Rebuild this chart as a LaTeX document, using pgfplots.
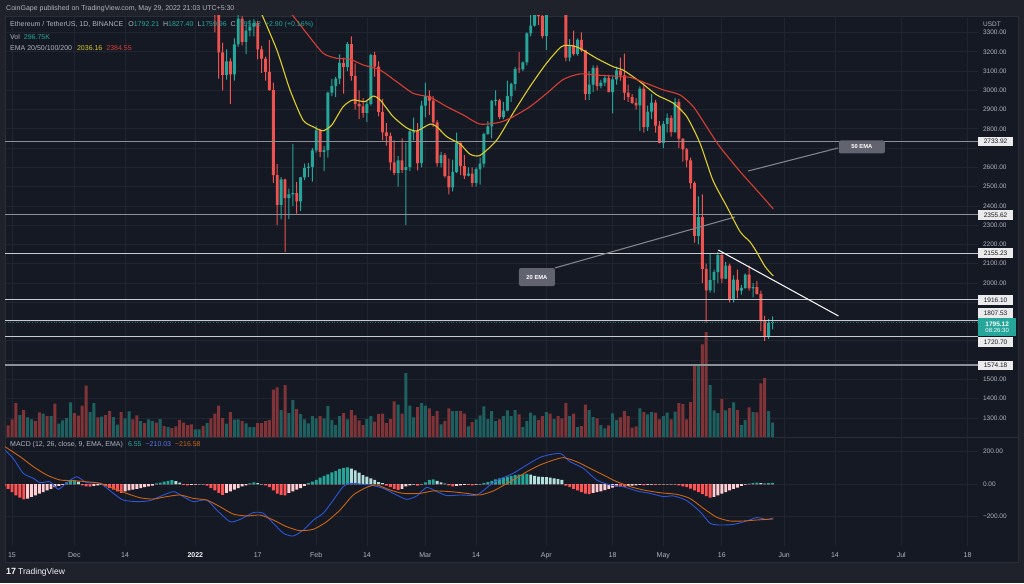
\documentclass[border=0pt]{standalone}
\usepackage{pgfplots}
\pgfplotsset{compat=1.18}
\usepackage{pgfplotstable}
\usepackage{fontspec}
\setmainfont{Liberation Sans}
\definecolor{outerbg}{HTML}{1F222B}
\definecolor{chartbg}{HTML}{151924}
\definecolor{gridc}{HTML}{21252F}
\definecolor{sepc}{HTML}{2A2E39}
\definecolor{txt}{HTML}{B2B5BE}
\definecolor{upc}{HTML}{26A69A}
\definecolor{dnc}{HTML}{EF5350}
\definecolor{volup}{RGB}{30,96,95}
\definecolor{voldn}{RGB}{128,52,56}
\definecolor{emaA}{RGB}{222,204,45}
\definecolor{emaB}{RGB}{214,62,52}
\definecolor{macdc}{RGB}{45,85,215}
\definecolor{sigc}{RGB}{205,100,20}
\definecolor{hup}{HTML}{26A69A}
\definecolor{hupl}{HTML}{B2DFDB}
\definecolor{hdn}{HTML}{FF5252}
\definecolor{hdnl}{HTML}{FFCDD2}
\definecolor{lvl}{HTML}{C9CBD1}
\definecolor{lvlb}{HTML}{8E9099}
\definecolor{callc}{HTML}{61646E}
\definecolor{boxtxt}{HTML}{131722}
\newcommand{\fs}[1]{\fontsize{#1}{#1}\selectfont}

\pgfplotstableread{
d o h l c
52 3537 3540 3300 3410
53 3410 3415 3060 3197
54 3197 3247 3000 3080
55 3080 3212 3056 3150
56 3150 3166 2929 3083
57 3083 3270 3050 3238
58 3238 3413 3225 3372
59 3372 3386 3233 3251
60 3251 3340 3188 3310
61 3310 3365 3280 3330
62 3330 3370 3280 3350
63 3350 3360 3160 3212
64 3212 3230 3090 3164
65 3164 3175 3050 3096
66 3096 3262 2998 3001
67 3001 3040 2520 2560
68 2560 2617 2300 2405
69 2405 2549 2330 2538
70 2538 2542 2160 2441
71 2441 2490 2332 2460
72 2460 2722 2400 2466
73 2466 2525 2360 2423
74 2423 2550 2374 2548
75 2548 2620 2534 2598
76 2598 2623 2550 2603
77 2603 2700 2526 2688
78 2688 2815 2677 2792
79 2792 2800 2653 2680
80 2680 2710 2580 2690
81 2690 2993 2650 2988
82 2988 3059 2970 3022
83 3022 3070 2965 3060
84 3060 3186 3032 3142
85 3142 3170 2983 3122
86 3122 3250 3100 3240
87 3240 3280 3050 3075
88 3075 3140 2900 2928
89 2928 3000 2850 2917
90 2917 2960 2858 2883
91 2883 2950 2835 2929
92 2929 3190 2920 3183
93 3183 3200 3071 3123
94 3123 3150 2865 2888
95 2888 2955 2740 2782
96 2782 2830 2713 2763
97 2763 2780 2584 2626
98 2626 2740 2560 2571
99 2571 2660 2500 2636
100 2636 2750 2571 2587
101 2587 2727 2300 2601
102 2601 2800 2580 2787
103 2780 2858 2740 2790
104 2790 2830 2585 2622
105 2622 2945 2600 2920
106 2920 3040 2860 2971
107 2971 3000 2873 2947
108 2947 2970 2810 2834
109 2834 2845 2604 2622
110 2622 2680 2600 2663
111 2663 2674 2547 2555
112 2555 2645 2460 2496
113 2496 2640 2475 2576
114 2576 2780 2570 2727
115 2727 2730 2560 2607
116 2607 2665 2540 2557
117 2557 2600 2553 2567
118 2567 2600 2500 2520
119 2520 2600 2500 2591
120 2591 2650 2510 2619
121 2619 2780 2600 2772
122 2772 2840 2770 2813
123 2813 2950 2750 2945
124 2945 3000 2920 2948
125 2948 2955 2850 2861
126 2861 2940 2850 2895
127 2895 3050 2890 2970
128 2970 3040 2940 3033
129 3033 3120 3000 3110
130 3110 3200 3090 3108
131 3108 3150 3100 3145
132 3145 3300 3130 3296
133 3296 3480 3280 3336
134 3336 3440 3330 3400
135 3400 3440 3340 3385
136 3385 3450 3270 3282
137 3282 3470 3210 3453
138 3453 3530 3440 3444
139 3444 3580 3420 3523
140 3523 3540 3400 3520
141 3520 3550 3400 3408
142 3408 3410 3150 3170
143 3170 3265 3150 3233
144 3233 3310 3180 3189
145 3189 3270 3180 3262
146 3262 3300 3200 3207
147 3207 3210 2950 2982
148 2982 3100 2950 3030
149 3030 3130 2990 3117
150 3117 3130 3000 3022
151 3022 3056 3010 3040
152 3040 3080 3022 3064
153 3064 3080 2990 2991
154 2991 3070 2880 3057
155 3057 3123 3030 3104
156 3104 3170 3050 3078
157 3078 3190 2950 2988
158 2988 3030 2940 2965
159 2965 2980 2930 2935
160 2935 2960 2900 2922
161 2922 3020 2790 3009
162 3009 3040 2780 2809
163 2809 2920 2790 2889
164 2889 2980 2850 2936
165 2936 2950 2780 2817
166 2817 2840 2725 2727
167 2727 2840 2700 2826
168 2826 2880 2780 2857
169 2857 2870 2760 2783
170 2783 2960 2780 2940
171 2940 2955 2700 2749
172 2749 2750 2630 2694
173 2694 2700 2600 2636
174 2636 2650 2490 2518
175 2518 2527 2210 2245
176 2245 2450 2200 2342
177 2342 2460 2000 2073
178 2073 2100 1795 1962
179 1962 2150 1950 2015
180 2015 2070 1950 2057
181 2057 2160 2000 2145
182 2145 2150 2000 2023
183 2023 2110 2020 2090
184 2090 2100 1900 1913
185 1913 2040 1900 2018
186 2018 2070 1920 1960
187 1960 1990 1940 1975
188 1975 2050 1970 2043
189 2043 2090 1960 1972
190 1972 2000 1925 1978
191 1978 2010 1940 1944
192 1944 1960 1750 1802
193 1802 1830 1700 1724
194 1724 1813 1710 1792
195 1792.21 1827.40 1759.96 1795.12
}\candles

\pgfplotstableread{
d v u
-1 11.7 0
0 17.7 0
1 34 0
2 22 1
3 27 0
4 19.7 1
5 17.7 1
6 16 0
7 24.7 0
8 23.3 1
9 21 0
10 21 1
11 33.3 0
12 13.3 1
13 16.7 1
14 19 1
15 34.7 1
16 24 0
17 21.3 0
18 31.3 0
19 51.3 0
20 25 1
21 34 1
22 19.7 0
23 20.3 1
24 22 0
25 26 0
26 20 1
27 12.3 1
28 25 0
29 18.7 1
30 25.7 1
31 17.7 0
32 21.7 0
33 16 1
34 14 0
35 17.7 1
36 16 1
37 14.3 0
38 18 1
39 11 0
40 10 1
41 9 0
42 10.7 0
43 17 0
44 14.3 0
45 12 0
46 12.7 0
47 7.7 1
48 7.7 1
49 11 0
50 14 1
51 18.7 0
52 23.3 0
53 31.3 0
54 19 0
55 13.3 1
56 25 0
57 17.3 1
58 17.7 1
59 16 0
60 13.7 1
61 10 1
62 10 1
63 14 0
64 14 0
65 16 0
66 17 0
67 47.3 0
68 49.7 0
69 27 1
70 52 0
71 24 1
72 37 1
73 28 0
74 23 1
75 17.7 1
76 13.7 1
77 21 1
78 18.7 1
79 21 0
80 18.7 1
81 31 1
82 17 1
83 12 1
84 21 1
85 24 0
86 17.7 1
87 27 0
88 21.7 0
89 16.7 0
90 12 0
91 18 1
92 21 1
93 15.3 0
94 23 0
95 23.3 0
96 14 0
97 18 0
98 35.7 0
99 32.3 1
100 23.3 0
101 64 1
102 31.3 1
103 19.7 1
104 30 0
105 34 1
106 31.3 1
107 28.7 0
108 21 0
109 26 0
110 12.7 1
111 16 0
112 28.7 0
113 26 1
114 26 1
115 26 0
116 23.3 0
117 10.7 1
118 15 0
119 17.7 1
120 21.7 1
121 30.7 1
122 18 1
123 26 1
124 16 1
125 17.7 0
126 21 1
127 26.7 1
128 21 1
129 27 1
130 22.7 0
131 10 1
132 16 1
133 24.3 1
134 21.7 1
135 17 0
136 21 0
137 25 1
138 23.3 0
139 18 1
140 21 0
141 18.7 0
142 34 0
143 21 1
144 23.3 0
145 10 1
146 11 0
147 32.3 0
148 27 1
149 20 1
150 18.7 0
151 12 1
152 8.7 1
153 11.7 0
154 23.7 1
155 17 1
156 19.7 0
157 26 0
158 21 0
159 9.3 0
160 10.7 0
161 28.7 1
162 25 0
163 22.7 1
164 25 1
165 24.3 0
166 17.7 0
167 21 1
168 24.3 1
169 17.7 0
170 25.3 1
171 34 0
172 33 0
173 17.7 0
174 35 0
175 72 0
176 71 1
177 92.7 0
178 105 0
179 52 1
180 26.7 1
181 24 1
182 38 0
183 26.7 1
184 29 0
185 34.7 1
186 27 0
187 12 1
188 17 1
189 29.7 0
190 25 1
191 24.7 0
192 53.7 0
193 59 0
194 26 1
195 14.3 1
}\vol

\pgfplotstableread{
d h k
-2 -15 3
-1 -30 3
0 -50 3
1 -70 3
2 -85 3
3 -95 3
4 -90 4
5 -80 4
6 -70 4
7 -60 4
8 -50 4
9 -40 4
10 -30 4
11 -20 4
12 -12 4
13 -5 4
14 10 1
15 20 1
16 22 1
17 15 2
18 -8 3
19 -14 3
20 -16 3
21 -12 4
22 -8 4
23 -5 4
24 -15 3
25 -25 3
26 -35 3
27 -45 3
28 -55 3
29 -45 4
30 -40 4
31 -35 4
32 -30 4
33 -25 4
34 -20 4
35 -15 4
36 -10 4
37 4 1
38 8 1
39 14 1
40 20 1
41 24 1
42 18 2
43 8 2
44 -5 3
45 -8 3
46 -6 4
47 -4 4
48 -3 4
49 -2 4
50 -10 3
51 -25 3
52 -40 3
53 -55 3
54 -68 3
55 -55 4
56 -45 4
57 -35 4
58 -25 4
59 -15 4
60 -8 4
61 4 1
62 10 1
63 5 2
64 -2 4
65 -8 3
66 -20 3
67 -40 3
68 -60 3
69 -68 3
70 -70 3
71 -55 4
72 -45 4
73 -35 4
74 -25 4
75 -12 4
76 5 1
77 15 1
78 25 1
79 40 1
80 50 1
81 60 1
82 72 1
83 82 1
84 92 1
85 100 1
86 103 1
87 95 2
88 85 2
89 70 2
90 55 2
91 45 2
92 35 2
93 25 2
94 12 2
95 5 2
96 -10 3
97 -20 3
98 -30 3
99 -37 3
100 -30 4
101 -15 4
102 -8 4
103 -4 4
104 -10 3
105 -3 4
106 10 1
107 25 1
108 28 1
109 20 2
110 10 2
111 3 2
112 -8 3
113 -14 3
114 -12 4
115 -8 4
116 -6 4
117 -5 3
118 -8 3
119 -4 4
120 -2 4
121 6 1
122 12 1
123 20 1
124 28 1
125 35 1
126 40 1
127 45 1
128 50 1
129 55 1
130 58 1
131 60 1
132 62 1
133 58 2
134 50 2
135 46 2
136 44 2
137 42 2
138 40 2
139 35 2
140 30 2
141 25 2
142 -10 3
143 -20 3
144 -30 3
145 -40 3
146 -50 3
147 -60 3
148 -62 3
149 -55 4
150 -50 4
151 -45 4
152 -38 4
153 -30 4
154 -22 4
155 -15 4
156 -18 3
157 -20 3
158 -12 4
159 -10 4
160 -8 4
161 -6 4
162 -8 3
163 -5 4
164 -4 4
165 -5 3
166 -3 4
167 -4 3
168 -3 4
169 -2 4
170 -4 3
171 -8 3
172 -15 3
173 -20 3
174 -28 3
175 -40 3
176 -50 3
177 -62 3
178 -75 3
179 -85 3
180 -80 4
181 -70 4
182 -60 4
183 -50 4
184 -40 4
185 -30 4
186 -22 4
187 -12 4
188 -4 4
189 3 1
190 6 1
191 9 1
192 6 2
193 3 2
194 5 1
195 6.55 1
}\hist

\pgfplotstableread{
d p
63.5 3420
67.9 3210
71.3 3001
74.6 2846
77.2 2811
79.7 2790
82 2820
84.9 2915
87.4 2950
90.5 2941
92.6 2970
94.4 2950
97.7 2864
101.2 2805
103.8 2789
107.2 2825
108.9 2811
111.5 2759
114.9 2721
117.4 2669
120 2662
124.3 2742
128.5 2882
132.8 3019
137.1 3142
140.9 3227
143.5 3232
145.6 3218
149.9 3166
154.1 3123
156.7 3105
161 3045
165.3 2976
169.5 2934
173 2864
176.4 2726
179.7 2534
183.3 2396
186.7 2266
189.2 2214
190.9 2162
193.1 2085
195.2 2036.16
}\emaAt

\pgfplotstableread{
d p
68 3470
72.1 3385
75.6 3295
79.8 3192
83.3 3166
86.7 3161
90.1 3131
94.4 3105
98.6 3045
102.9 2984
107.2 2964
111.5 2915
115.7 2872
120 2825
125.1 2834
128.5 2863
132.8 2915
137.1 2984
141.4 3057
145.6 3085
149.9 3079
154.2 3074
158.5 3067
162.7 3036
167 3002
171.3 2976
174.7 2915
178.1 2811
181.5 2707
186.7 2578
190.9 2483
195.2 2384.55
}\emaBt

\pgfplotstableread{
d m
-1.8 210
0.3 159
2.9 66
5.5 35
7.2 8
9.7 14
11.9 -33
14 8
16.6 45
19.2 8
22.6 4
26 -58
28.5 -99
32 -109
35.4 -103
37.9 -78
41.4 -47
43.9 -78
46.5 -109
49.9 -99
52.5 -161
55.9 -233
58.5 -219
61.9 -177
64.4 -181
67 -243
69.6 -305
72.1 -322
74.7 -285
77.3 -223
79.8 -181
82.4 -99
84.9 -16
86.7 4
89.2 0
91.8 -6
95.2 -27
98.6 -68
101.2 -95
103.8 -74
106.3 -21
108.9 -47
111.5 -72
114.9 -68
119.2 -68
122.6 -6
125.1 30
128.5 66
132 118
135.4 165
138.8 186
140.9 186
143.1 138
146.5 97
149.9 25
153.3 -6
156.7 -16
160.2 -43
163.6 -58
167 -78
169.6 -74
173 -103
176.4 -171
179 -243
181.5 -254
185 -250
188.4 -229
190.9 -208
193.5 -219
195.2 -210.03
}\macdt

\pgfplotstableread{
d s
-1.8 231
2.1 169
5.5 107
8.9 56
12.3 25
15.7 21
19.2 14
22.6 4
26 -27
29.4 -58
32.8 -85
36.2 -93
39.7 -78
43.1 -68
46.5 -89
49.9 -99
53.3 -140
56.7 -186
60.2 -198
63.6 -192
67 -223
70.4 -264
73.8 -289
77.3 -280
80.7 -233
84.1 -161
87.5 -68
90.9 -21
93.5 -6
96.9 -37
100.3 -58
104.6 -58
108 -43
112.3 -47
116.6 -58
120 -68
123.4 -43
125.1 -21
128.5 25
132 76
135.4 118
138.8 148
141.4 163
144.8 138
148.2 97
151.6 56
155.1 14
158.5 -16
161.9 -37
166.2 -54
170.4 -64
173.8 -89
177.3 -151
180.7 -206
184.1 -229
187.5 -229
190.9 -223
195.2 -216.58
}\sigt

\pgfplotsset{
  chartframe/.style={scale only axis, width=973pt, xmin=-1.795, xmax=247.69,
    anchor=north west},
}

\begin{document}
\begin{tikzpicture}
\useasboundingbox (0,0) rectangle (1024pt,-583pt);
\fill[outerbg] (0,0) rectangle (1024pt,-583pt);
\fill[chartbg] (5pt,-16pt) rectangle (1018pt,-562pt);
\draw[sepc, line width=0.8pt] (5pt,-16pt) rectangle (1018pt,-562pt);

% price grid and scale
\begin{axis}[chartframe, at={(5pt,-16pt)}, height=421pt,
  ymin=1200.8, ymax=3385.6,
  axis line style={draw=none}, major tick length=0pt,
  xtick={0,16,29,47,63,78,91,106,119,137,154,167,182,198,211,228,245},
  xticklabels={},
  ytick={1300,1400,...,3300},
  yticklabels={1300.00,1400.00,1500.00,{},{},{},{},2000.00,2100.00,2200.00,2300.00,2400.00,2500.00,2600.00,{},2800.00,2900.00,3000.00,3100.00,3200.00,3300.00},
  yticklabel pos=right,
  yticklabel style={anchor=west, xshift=1.5pt, font=\fs{6.5}, text=txt},
  xmajorgrids, ymajorgrids, grid style={gridc, line width=0.7pt},
]
\addplot[draw=none, forget plot] coordinates {(0,2000)};
\end{axis}

% volume
\begin{axis}[chartframe, at={(5pt,-16pt)}, height=421pt, ymin=0, ymax=421, hide axis]
\addplot[ybar, bar width=3pt, bar shift=0pt, fill=volup, draw=none]
  table[x=d, y expr={\thisrow{u}==1 ? \thisrow{v} : 0}] {\vol};
\addplot[ybar, bar width=3pt, bar shift=0pt, fill=voldn, draw=none]
  table[x=d, y expr={\thisrow{u}==0 ? \thisrow{v} : 0}] {\vol};
\end{axis}

% candle wicks (stacked: invisible base at low, then high-low)
\begin{axis}[chartframe, at={(5pt,-16pt)}, height=421pt,
  ymin=1200.8, ymax=3385.6, hide axis, ybar stacked, bar width=1pt]
\addplot[fill=none, draw=none] table[x=d, y=l] {\candles};
\addplot[fill=upc, draw=none] table[x=d,
  y expr={\thisrow{c}>=\thisrow{o} ? \thisrow{h}-\thisrow{l} : 0}] {\candles};
\addplot[fill=dnc, draw=none] table[x=d,
  y expr={\thisrow{c}<\thisrow{o} ? \thisrow{h}-\thisrow{l} : 0}] {\candles};
\end{axis}

% candle bodies (stacked: invisible base at min(open,close), then body)
\begin{axis}[chartframe, at={(5pt,-16pt)}, height=421pt,
  ymin=1200.8, ymax=3385.6, hide axis, ybar stacked, bar width=2.9pt]
\addplot[fill=none, draw=none] table[x=d, y expr={min(\thisrow{o},\thisrow{c})}] {\candles};
\addplot[fill=upc, draw=none] table[x=d,
  y expr={\thisrow{c}>=\thisrow{o} ? max(\thisrow{c}-\thisrow{o},5) : 0}] {\candles};
\addplot[fill=dnc, draw=none] table[x=d,
  y expr={\thisrow{c}<\thisrow{o} ? max(\thisrow{o}-\thisrow{c},5) : 0}] {\candles};
\end{axis}

% EMAs, levels, annotations
\begin{axis}[chartframe, at={(5pt,-16pt)}, height=421pt,
  ymin=1200.8, ymax=3385.6, hide axis, clip mode=individual]
\addplot[lvlb, line width=1.8pt] coordinates {(-1.795,2733.92) (247.69,2733.92)};
\addplot[lvlb, line width=1.8pt] coordinates {(-1.795,2355.62) (247.69,2355.62)};
\addplot[lvl, line width=1pt] coordinates {(-1.795,2155.23) (247.69,2155.23)};
\addplot[lvl, line width=1pt] coordinates {(-1.795,1916.10) (247.69,1916.10)};
\addplot[lvl, line width=1pt] coordinates {(-1.795,1807.53) (247.69,1807.53)};
\addplot[lvl, line width=1pt] coordinates {(-1.795,1720.70) (247.69,1720.70)};
\addplot[lvlb, line width=1.8pt] coordinates {(-1.795,1574.18) (247.69,1574.18)};
\addplot[upc!70!black, dotted, line width=0.7pt] coordinates {(-1.795,1795.12) (247.69,1795.12)};
\addplot[callc!80!white, line width=1.1pt] coordinates {(188.7,2581) (211.8,2700.6)};
\addplot[callc!80!white, line width=1.1pt] coordinates {(139.2,2078) (185.4,2342.5)};
\addplot[emaA, line width=1.1pt, smooth, tension=0.4] table[x=d, y=p] {\emaAt};
\addplot[emaB, line width=1.1pt, smooth, tension=0.4] table[x=d, y=p] {\emaBt};
\addplot[white!88!gray, line width=1.1pt] coordinates {(181.1,2171) (211.9,1829)};
\node[fill=callc, rounded corners=2pt, minimum width=46pt, minimum height=13pt, inner sep=0pt,
  text=white, font=\fs{5.8}\bfseries] at (axis cs:217.9,2705.8) {50 EMA};
\node[fill=callc, rounded corners=2pt, minimum width=36pt, minimum height=18pt, inner sep=0pt,
  text=white, font=\fs{5.8}\bfseries] at (axis cs:134.6,2031) {20 EMA};
\tikzset{tag/.style={fill=white!92!black, text=boxtxt, minimum width=35pt, minimum height=9.6pt,
  inner sep=0pt, font=\fs{6.5}}}
\node[tag] at (axis cs:252.2,2733.3) {2733.92};
\node[tag] at (axis cs:252.2,2352.9) {2355.62};
\node[tag] at (axis cs:252.2,2155.7) {2155.23};
\node[tag] at (axis cs:252.2,1911.8) {1916.10};
\node[tag] at (axis cs:252.2,1844.3) {1807.53};
\node[tag] at (axis cs:252.2,1693.8) {1720.70};
\node[tag] at (axis cs:252.2,1571.9) {1574.18};
\node[fill=upc, text=white, minimum width=38pt, minimum height=17.5pt, inner sep=0pt,
  align=center, font=\fs{6.5}] at (axis cs:252.6,1771.7)
  {\bfseries 1795.12\\[-0.5pt]{\fs{6}\mdseries 08:26:30}};
\end{axis}

% MACD pane
\draw[sepc, line width=1pt] (5pt,-437pt) -- (1018pt,-437pt);
\begin{axis}[chartframe, at={(5pt,-437pt)}, height=109pt,
  ymin=-383.9, ymax=291,
  axis line style={draw=none}, major tick length=0pt,
  xtick={0,16,29,47,63,78,91,106,119,137,154,167,182,198,211,228,245},
  xticklabels={15,Dec,14,{\bfseries\color{white!85!txt}2022},17,Feb,14,Mar,14,Apr,18,May,16,Jun,14,Jul,18},
  xticklabel style={anchor=base, yshift=-11pt, font=\fs{7}, text=txt},
  ytick={-200,0,200},
  yticklabels={−200.00,0.00,200.00},
  yticklabel pos=right,
  yticklabel style={anchor=west, xshift=1.5pt, font=\fs{6.5}, text=txt},
  xmajorgrids, ymajorgrids, grid style={gridc, line width=0.7pt},
]
\addplot[ybar, bar width=2.9pt, bar shift=0pt, fill=hup, draw=none]
  table[x=d, y expr={\thisrow{k}==1 ? \thisrow{h} : 0}] {\hist};
\addplot[ybar, bar width=2.9pt, bar shift=0pt, fill=hupl, draw=none]
  table[x=d, y expr={\thisrow{k}==2 ? \thisrow{h} : 0}] {\hist};
\addplot[ybar, bar width=2.9pt, bar shift=0pt, fill=hdn, draw=none]
  table[x=d, y expr={\thisrow{k}==3 ? \thisrow{h} : 0}] {\hist};
\addplot[ybar, bar width=2.9pt, bar shift=0pt, fill=hdnl, draw=none]
  table[x=d, y expr={\thisrow{k}==4 ? \thisrow{h} : 0}] {\hist};
\addplot[macdc, line width=0.9pt, smooth, tension=0.4] table[x=d, y=m] {\macdt};
\addplot[sigc, line width=0.9pt, smooth, tension=0.4] table[x=d, y=s] {\sigt};
\end{axis}

% texts
\node[anchor=west, inner sep=0pt, text=txt, font=\fs{7}] at (6pt,-9pt)
  {CoinGape published on TradingView.com, May 29, 2022 21:03 UTC+5:30};
\node[anchor=west, inner sep=0pt, font=\fs{7}] at (10pt,-25pt)
  {\color{txt}Ethereum / TetherUS, 1D, BINANCE\hspace{5pt}O\color{upc}1792.21\hspace{4pt}\color{txt}H\color{upc}1827.40\hspace{4pt}\color{txt}L\color{upc}1759.96\hspace{4pt}\color{txt}C\color{upc}1795.12\hspace{4pt}+2.90 (+0.16\%)};
\node[anchor=west, inner sep=0pt, font=\fs{7}] at (10pt,-37pt)
  {\color{txt}Vol\hspace{4pt}\color{upc}296.75K};
\node[anchor=west, inner sep=0pt, font=\fs{7}] at (10pt,-48pt)
  {\color{txt}EMA 20/50/100/200\hspace{5pt}\color{emaA}2036.16\hspace{4pt}\color{emaB}2384.55};
\node[anchor=west, inner sep=0pt, text=txt, font=\fs{6.5}] at (983pt,-24pt) {USDT};
\node[anchor=west, inner sep=0pt, font=\fs{7}] at (10pt,-445pt)
  {\color{txt}MACD (12, 26, close, 9, EMA, EMA)\hspace{5pt}\color{upc}6.55\hspace{4pt}\color{macdc!80!white}−210.03\hspace{4pt}\color{sigc}−216.58};
\node[anchor=west, inner sep=0pt, text=white!85!txt, font=\fs{8.5}] at (6pt,-572pt)
  {{\bfseries\fs{9}17}\hspace{2pt}TradingView};
\end{tikzpicture}
\end{document}
